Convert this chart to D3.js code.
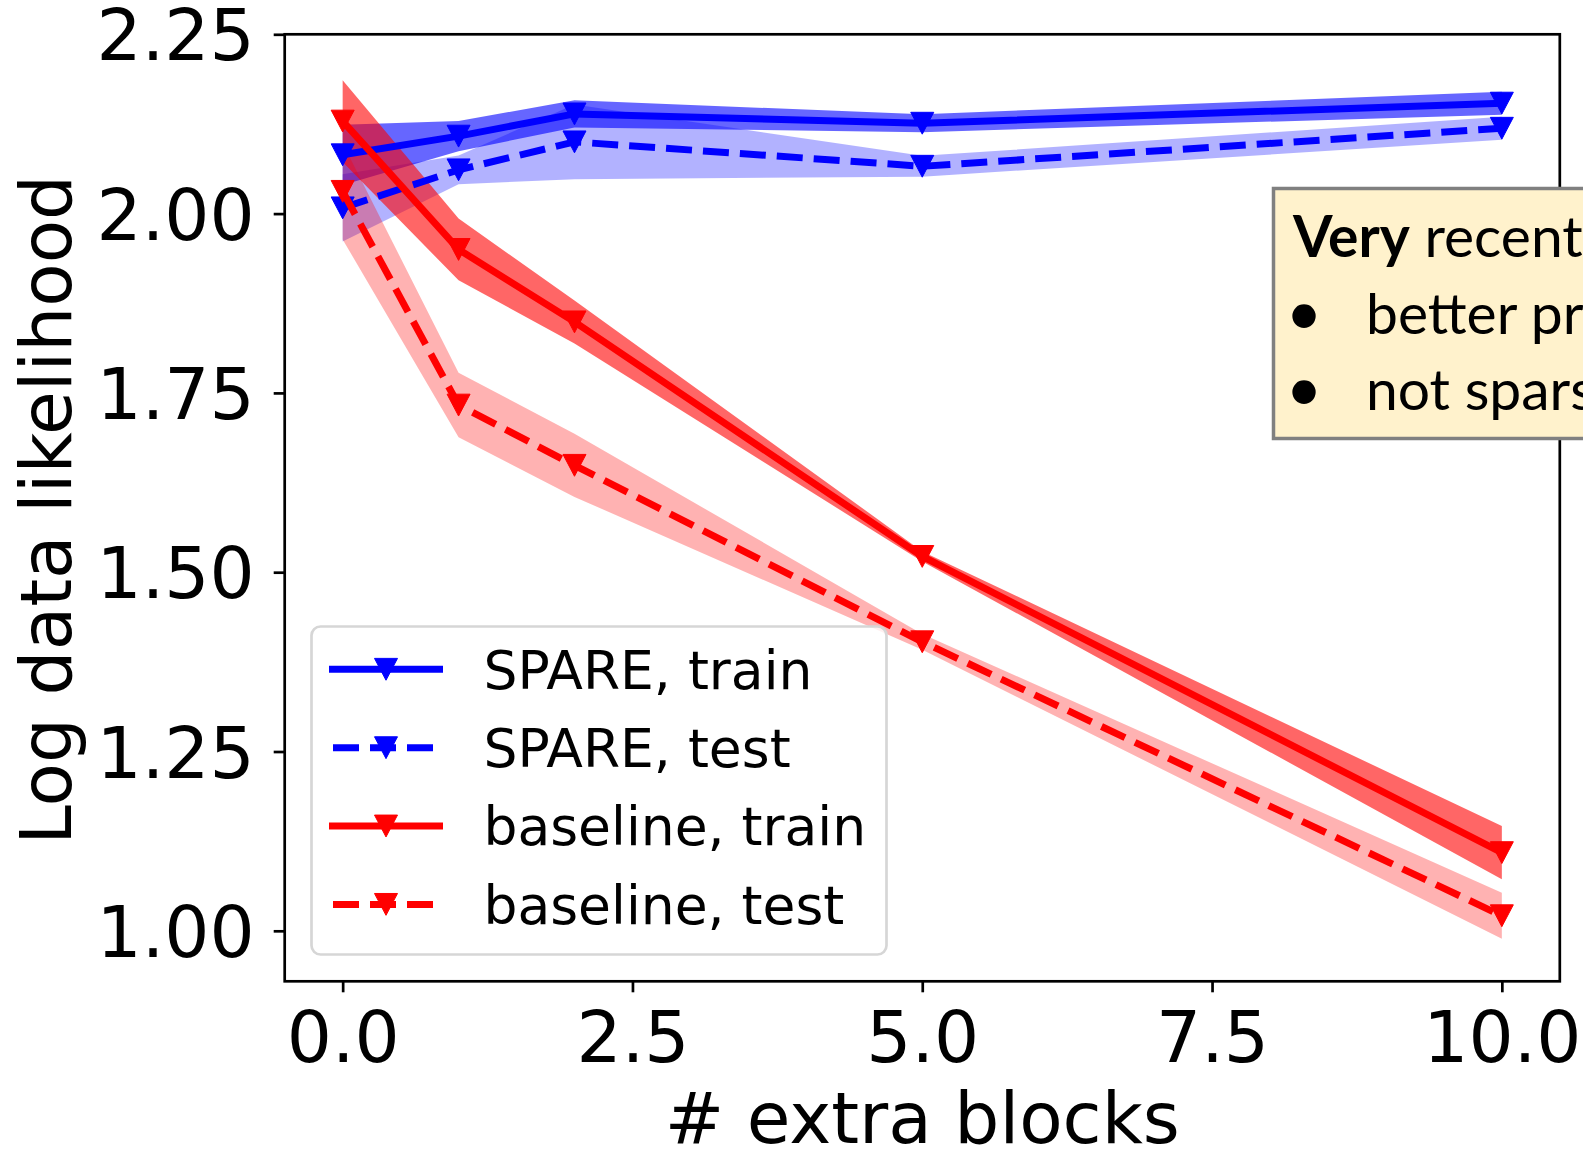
<!DOCTYPE html>
<html>
<head>
<meta charset="utf-8">
<script src="https://cdn.jsdelivr.net/npm/d3@7"></script>
<style>
  html, body { margin: 0; padding: 0; background: #ffffff; overflow: hidden; }
  svg { display: block; }
</style>
</head>
<body>
<svg id="chart" width="1583" height="1150"></svg>
<script>
// ---- data ----
const xValues = [0, 1, 2, 5, 10];
const spareTrain     = [2.082, 2.108, 2.139, 2.126, 2.154];
const spareTrainErr  = [0.042, 0.021, 0.019, 0.0125, 0.016];
const spareTest      = [2.008, 2.061, 2.100, 2.066, 2.119];
const spareTestErr   = [0.047, 0.020, 0.052, 0.0145, 0.016];
const baseTrain      = [2.129, 1.950, 1.849, 1.522, 1.109];
const baseTrainErr   = [0.057, 0.043, 0.030, 0.007, 0.037];
const baseTest       = [2.031, 1.733, 1.649, 1.403, 1.021];
const baseTestErr    = [0.067, 0.045, 0.044, 0.011, 0.032];
const seriesNames    = ["SPARE, train", "SPARE, test", "baseline, train", "baseline, test"];
const xTicks = [0, 2.5, 5, 7.5, 10];
const xTickLabels = ["0.0", "2.5", "5.0", "7.5", "10.0"];
const yTicks = [1.00, 1.25, 1.50, 1.75, 2.00, 2.25];
const yTickLabels = ["1.00", "1.25", "1.50", "1.75", "2.00", "2.25"];
const xLabel = "# extra blocks";
const yLabel = "Log data likelihood";
const noteTitleBold = "Very";
const noteTitleRest = " recent";
const noteBullets = ["better pr", "not spars"];

// ---- layout ----
const L = 284.7, R = 1559.8, T = 34.3, B = 981.3;
const svg = d3.select("#chart");
svg.append("rect").attr("width", 1583).attr("height", 1150).attr("fill", "#fff");

const x = d3.scaleLinear().domain([-0.5, 10.5]).range([L, R]);
const y = d3.scaleLinear().domain([0.9296, 2.25]).range([B, T]);

const font = "'DejaVu Sans', sans-serif";
const FS = 71;
const LW = 7, MS = 23;
const dash = "26,11";

const series = [
  { name: seriesNames[0], v: spareTrain, e: spareTrainErr, color: "#0000ff", alpha: 0.6, dashed: false },
  { name: seriesNames[1], v: spareTest,  e: spareTestErr,  color: "#0000ff", alpha: 0.3, dashed: true },
  { name: seriesNames[2], v: baseTrain,  e: baseTrainErr,  color: "#ff0000", alpha: 0.6, dashed: false },
  { name: seriesNames[3], v: baseTest,   e: baseTestErr,   color: "#ff0000", alpha: 0.3, dashed: true }
];

// bands (below all lines)
const area = d3.area()
  .x(d => x(d.x))
  .y0(d => y(d.v - d.e))
  .y1(d => y(d.v + d.e));
const gBands = svg.append("g");
series.forEach(s => {
  const pts = xValues.map((xv, i) => ({ x: xv, v: s.v[i], e: s.e[i] }));
  gBands.append("path").datum(pts)
    .attr("d", area)
    .attr("fill", s.color)
    .attr("fill-opacity", s.alpha)
    .attr("stroke", "none");
});

// lines + markers
const line = d3.line().x(d => x(d.x)).y(d => y(d.v));
function tri(cx, cy, s) {
  const h = s / 2;
  return `M${cx - h},${cy - h * 0.95}L${cx + h},${cy - h * 0.95}L${cx},${cy + h * 0.95}Z`;
}
const gLines = svg.append("g");
series.forEach(s => {
  const pts = xValues.map((xv, i) => ({ x: xv, v: s.v[i] }));
  const g = gLines.append("g");
  g.append("path").datum(pts)
    .attr("d", line)
    .attr("fill", "none")
    .attr("stroke", s.color)
    .attr("stroke-width", LW)
    .attr("stroke-linejoin", "round")
    .attr("stroke-dasharray", s.dashed ? dash : null);
  g.selectAll("path.m").data(pts).enter().append("path")
    .attr("class", "m")
    .attr("d", d => tri(x(d.x), y(d.v), MS))
    .attr("fill", s.color)
    .attr("stroke", s.color)
    .attr("stroke-width", 1);
});

// axes
const yAxis = d3.axisLeft(y).tickValues(yTicks)
  .tickFormat((d, i) => yTickLabels[i]).tickSize(11).tickSizeOuter(0).tickPadding(19);
const gy = svg.append("g").attr("transform", `translate(${L},0)`).call(yAxis);
gy.select(".domain").remove();
gy.selectAll(".tick line").attr("stroke", "#000").attr("stroke-width", 2.7);
gy.selectAll(".tick text")
  .attr("font-family", font).attr("font-size", FS).attr("fill", "#000")
  .attr("dy", "0.36em");

const xAxis = d3.axisBottom(x).tickValues(xTicks)
  .tickFormat((d, i) => xTickLabels[i]).tickSize(11).tickSizeOuter(0);
const gx = svg.append("g").attr("transform", `translate(0,${B})`).call(xAxis);
gx.select(".domain").remove();
gx.selectAll(".tick line").attr("stroke", "#000").attr("stroke-width", 2.7);
gx.selectAll(".tick text")
  .attr("font-family", font).attr("font-size", FS).attr("fill", "#000")
  .attr("y", 80.5).attr("dy", 0);

// spines
svg.append("rect")
  .attr("x", L).attr("y", T).attr("width", R - L).attr("height", B - T)
  .attr("fill", "none").attr("stroke", "#000").attr("stroke-width", 2.7);

// axis labels
svg.append("text")
  .attr("x", (L + R) / 2).attr("y", 1143)
  .attr("text-anchor", "middle")
  .attr("font-family", font).attr("font-size", FS).attr("fill", "#000")
  .text(xLabel);
svg.append("text")
  .attr("transform", `translate(71,${(T + B) / 2 + 2}) rotate(-90)`)
  .attr("text-anchor", "middle")
  .attr("font-family", font).attr("font-size", FS).attr("fill", "#000")
  .text(yLabel);

// legend
const lg = svg.append("g");
lg.append("rect")
  .attr("x", 311.5).attr("y", 626.5).attr("width", 575).attr("height", 328)
  .attr("rx", 9).attr("ry", 9)
  .attr("fill", "#fff").attr("fill-opacity", 0.8)
  .attr("stroke", "#d6d6d6").attr("stroke-width", 2.7);
const rowY = [669.3, 747.7, 826.0, 904.4];
series.forEach((s, i) => {
  const ry = rowY[i];
  lg.append("line")
    .attr("x1", 329).attr("x2", 443).attr("y1", ry).attr("y2", ry)
    .attr("stroke", s.color).attr("stroke-width", LW)
    .attr("stroke-dasharray", s.dashed ? dash : null)
    .attr("stroke-dashoffset", s.dashed ? -4 : null);
  lg.append("path")
    .attr("d", tri(386, ry, MS))
    .attr("fill", s.color).attr("stroke", s.color).attr("stroke-width", 1);
  lg.append("text")
    .attr("x", 483.5).attr("y", ry).attr("dy", "0.36em")
    .attr("font-family", font).attr("font-size", 53.5).attr("fill", "#000")
    .text(s.name);
});

// annotation box (cut off at right edge)
const ng = svg.append("g");
ng.append("rect")
  .attr("x", 1273.5).attr("y", 188.5).attr("width", 400).attr("height", 250)
  .attr("fill", "#fff2cc").attr("stroke", "#808080").attr("stroke-width", 3.5);
const noteFont = "Lato, 'Open Sans', sans-serif";
const t1 = ng.append("text")
  .attr("x", 1293).attr("y", 256.5)
  .attr("font-family", noteFont).attr("font-size", 57).attr("fill", "#000");
t1.append("tspan").attr("font-weight", "bold").text(noteTitleBold);
t1.append("tspan").text(noteTitleRest);
const bulletY = [334, 410];
noteBullets.forEach((b, i) => {
  ng.append("text")
    .attr("x", 1304).attr("y", bulletY[i] + 1).attr("text-anchor", "middle")
    .attr("font-family", noteFont).attr("font-size", 63).attr("fill", "#000")
    .text("•");
  ng.append("text")
    .attr("x", 1366).attr("y", bulletY[i])
    .attr("font-family", noteFont).attr("font-size", 57).attr("fill", "#000")
    .text(b);
});
</script>
</body>
</html>
